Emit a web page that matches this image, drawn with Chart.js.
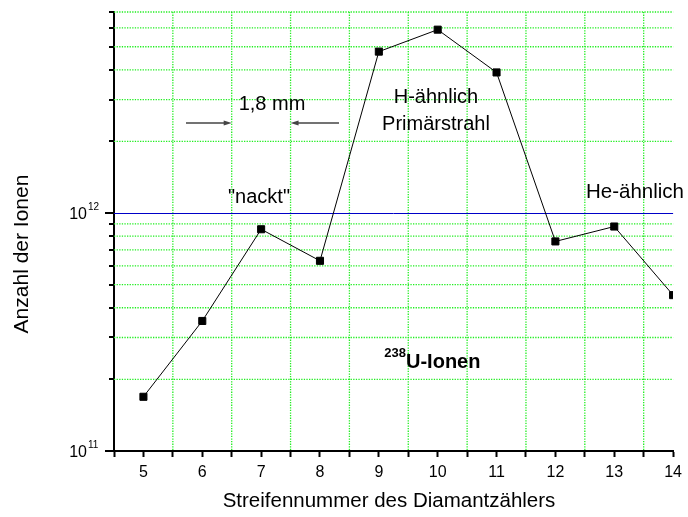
<!DOCTYPE html>
<html>
<head>
<meta charset="utf-8">
<script src="https://cdn.jsdelivr.net/npm/chart.js@4.4.0/dist/chart.umd.min.js"></script>
<style>
  html, body { margin: 0; padding: 0; background: #fff; }
  #wrap { width: 688px; height: 517px; }
</style>
</head>
<body>
<div id="wrap"><canvas id="grafik" width="688" height="517"></canvas></div>
<script>
// Daten: Streifennummer des Diamantzählers -> Anzahl der Ionen
const streifen = [5, 6, 7, 8, 9, 10, 11, 12, 13, 14];
const anzahlIonen = [1.69e11, 3.52e11, 8.55e11, 6.3e11, 4.77e12, 5.9e12, 3.9e12, 7.6e11, 8.78e11, 4.52e11];

// Achsen-Ticks
const xTicks = [4.5, 5, 5.5, 6, 6.5, 7, 7.5, 8, 8.5, 9, 9.5, 10, 10.5, 11, 11.5, 12, 12.5, 13, 13.5, 14];
const yTicks = [1e11, 2e11, 3e11, 4e11, 5e11, 6e11, 7e11, 8e11, 9e11,
                1e12, 2e12, 3e12, 4e12, 5e12, 6e12, 7e12];
const yDekaden = [1e11, 1e12];
const yExponenten = ['11', '12'];

const GRUEN = '#22ee22';
const BLAU = '#0000c8';
const FONT = '"Liberation Sans", Arial, sans-serif';

// Gitterlinien (gepunktet grün, 10^12 blau)
const gitter = {
  id: 'gitter',
  beforeDatasetsDraw(chart) {
    const ctx = chart.ctx;
    const x = chart.scales.x;
    const y = chart.scales.y;
    const a = chart.chartArea;
    ctx.save();
    ctx.lineWidth = 1.3;
    ctx.strokeStyle = GRUEN;
    ctx.setLineDash([1.3, 1.3]);
    xTicks.forEach(v => {
      if (v % 1 === 0 || v === x.min) return;
      const px = x.getPixelForValue(v);
      ctx.beginPath();
      ctx.moveTo(px, a.top);
      ctx.lineTo(px, a.bottom);
      ctx.stroke();
    });
    yTicks.forEach(v => {
      if (yDekaden.includes(v)) return;
      const py = y.getPixelForValue(v);
      ctx.beginPath();
      ctx.moveTo(a.left, py);
      ctx.lineTo(a.right, py);
      ctx.stroke();
    });
    // 10^12-Linie durchgezogen blau
    ctx.setLineDash([]);
    ctx.lineWidth = 1;
    ctx.strokeStyle = BLAU;
    const p12 = Math.round(y.getPixelForValue(1e12)) + 0.5;
    ctx.beginPath();
    ctx.moveTo(a.left, p12);
    ctx.lineTo(a.right, p12);
    ctx.stroke();
    ctx.restore();
  }
};

// Beschriftungen, Pfeile, Y-Ticks
const beschriftung = {
  id: 'beschriftung',
  afterDraw(chart) {
    const ctx = chart.ctx;
    const x = chart.scales.x;
    const y = chart.scales.y;
    const area = chart.chartArea;
    ctx.save();

    // Y-Tickmarken (lang bei Dekaden)
    ctx.strokeStyle = '#000';
    ctx.lineWidth = 2;
    yTicks.forEach(v => {
      const py = Math.round(y.getPixelForValue(v));
      const len = yDekaden.includes(v) ? 9 : 5;
      ctx.beginPath();
      ctx.moveTo(area.left - len, py);
      ctx.lineTo(area.left, py);
      ctx.stroke();
    });

    // Y-Beschriftung 10^11, 10^12
    ctx.fillStyle = '#000';
    yDekaden.forEach((v, i) => {
      const py = y.getPixelForValue(v);
      ctx.font = '16px ' + FONT;
      ctx.textAlign = 'right';
      ctx.textBaseline = 'alphabetic';
      ctx.fillText('10', 87, py + 6);
      ctx.font = '10px ' + FONT;
      ctx.textAlign = 'left';
      ctx.fillText(yExponenten[i], 88, py - 3);
    });

    // Achsentitel
    ctx.font = '20.5px ' + FONT;
    ctx.textAlign = 'center';
    ctx.fillText('Streifennummer des Diamantzählers', 389, 507);
    ctx.save();
    ctx.translate(28, 254);
    ctx.rotate(-Math.PI / 2);
    ctx.font = '21px ' + FONT;
    ctx.fillText('Anzahl der Ionen', 0, 0);
    ctx.restore();

    // Annotationen
    ctx.font = '20px ' + FONT;
    ctx.textAlign = 'center';
    ctx.fillText('1,8 mm', 272, 110);
    ctx.fillText('"nackt"', 259, 203);
    ctx.fillText('H-ähnlich', 436, 103);
    ctx.fillText('Primärstrahl', 436, 130);
    ctx.textAlign = 'left';
    ctx.font = '20.5px ' + FONT;
    ctx.fillText('He-ähnlich', 586, 198);

    ctx.font = 'bold 20px ' + FONT;
    ctx.fillText('U-Ionen', 406, 368);
    ctx.font = 'bold 13px ' + FONT;
    ctx.textAlign = 'right';
    ctx.fillText('238', 406, 357);

    // Pfeile (1,8 mm Streifenbreite)
    const pfeil = (x0, x1, py) => {
      const dir = Math.sign(x1 - x0);
      ctx.strokeStyle = '#444';
      ctx.fillStyle = '#444';
      ctx.lineWidth = 1.5;
      ctx.beginPath();
      ctx.moveTo(x0, py);
      ctx.lineTo(x1 - dir * 6, py);
      ctx.stroke();
      ctx.beginPath();
      ctx.moveTo(x1, py);
      ctx.lineTo(x1 - dir * 8, py - 2.5);
      ctx.lineTo(x1 - dir * 8, py + 2.5);
      ctx.closePath();
      ctx.fill();
    };
    pfeil(186, x.getPixelForValue(6.5), 123);
    pfeil(339, x.getPixelForValue(7.5), 123);

    ctx.restore();
  }
};

new Chart(document.getElementById('grafik'), {
  type: 'line',
  data: {
    datasets: [{
      data: streifen.map((s, i) => ({ x: s, y: anzahlIonen[i] })),
      borderColor: '#000',
      borderWidth: 1,
      backgroundColor: '#000',
      pointStyle: 'rect',
      pointRadius: 5,
      pointBorderWidth: 1,
      pointBackgroundColor: '#000',
      pointBorderColor: '#000',
      tension: 0,
      fill: false
    }]
  },
  options: {
    responsive: false,
    animation: false,
    devicePixelRatio: 1,
    layout: { padding: { top: 12, right: 11, left: 0, bottom: 0 } },
    plugins: {
      legend: { display: false },
      tooltip: { enabled: false }
    },
    scales: {
      x: {
        type: 'linear',
        min: 4.5,
        max: 14,
        afterBuildTicks: s => { s.ticks = xTicks.map(v => ({ value: v })); },
        afterFit: s => { s.height = 66; },
        ticks: {
          autoSkip: false,
          maxRotation: 0,
          padding: 6,
          color: '#000',
          font: { family: FONT, size: 16 },
          callback: v => (v % 1 === 0 ? String(v) : '')
        },
        grid: {
          drawOnChartArea: false,
          drawTicks: true,
          tickLength: 6,
          tickWidth: 2,
          tickColor: '#000'
        },
        border: { color: '#000', width: 2 }
      },
      y: {
        type: 'logarithmic',
        min: 1e11,
        max: 7e12,
        afterBuildTicks: s => { s.ticks = yTicks.map(v => ({ value: v })); },
        afterFit: s => { s.width = 114; },
        ticks: { display: false },
        grid: { drawOnChartArea: false, drawTicks: false },
        border: { color: '#000', width: 2 }
      }
    }
  },
  plugins: [gitter, beschriftung]
});
</script>
</body>
</html>
